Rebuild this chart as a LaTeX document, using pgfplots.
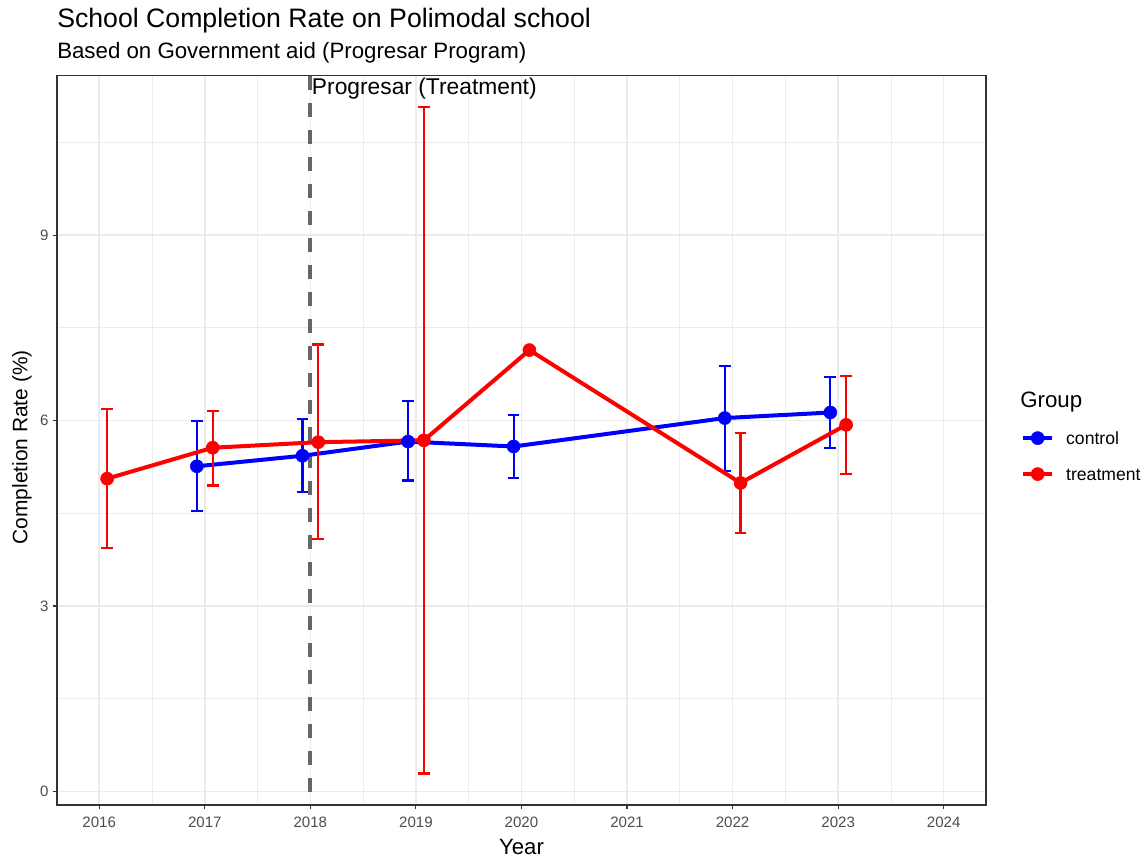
\documentclass[border=0pt]{standalone}
\usepackage{pgfplots}
\usepackage{pgfplotstable}
\pgfplotsset{compat=1.18}
\usepackage{fontspec}
\setmainfont{Liberation Sans}
\definecolor{ctrl}{HTML}{0000FF}
\definecolor{trt}{HTML}{FF0000}
\definecolor{grid92}{HTML}{EBEBEB}
\definecolor{g20}{HTML}{333333}
\definecolor{g30}{HTML}{4D4D4D}
\definecolor{g40}{HTML}{666666}

\pgfplotstableread{
x y ep em
2016.925 5.26 0.73 0.73
2017.925 5.43 0.60 0.59
2018.925 5.66 0.65 0.63
2019.925 5.58 0.51 0.51
2021.925 6.04 0.84 0.85
2022.925 6.13 0.57 0.57
}\controldata

\pgfplotstableread{
x y ep em
2016.075 5.06 1.13 1.12
2017.075 5.56 0.59 0.61
2018.075 5.65 1.58 1.56
2019.075 5.68 5.39 5.39
2020.075 7.14 0 0
2022.075 4.99 0.81 0.81
2023.075 5.93 0.79 0.79
}\treatdata

\begin{document}
\begin{tikzpicture}
\path[use as bounding box] (-42.75pt,-40.5pt) rectangle (817.5pt,603.75pt);
\begin{axis}[
  at={(0pt,0pt)}, anchor=south west,
  scale only axis, width=696.75pt, height=547pt,
  xmin=2015.6, xmax=2024.4, ymin=-0.22, ymax=11.58,
  xtick={2016,2017,...,2024}, ytick={0,3,6,9},
  minor xtick={2016.5,2017.5,...,2023.5},
  minor ytick={1.5,4.5,7.5,10.5},
  grid=both,
  major grid style={grid92, line width=1.2pt},
  minor grid style={grid92, line width=0.6pt},
  minor tick length=0pt, major tick length=3.3pt,
  tick align=outside, tick pos=left,
  axis line style={g20, line width=0.8pt},
  every tick/.style={g20, line width=0.8pt},
  ticklabel style={font=\fontsize{11.3}{13}\selectfont, text=g30},
  xticklabel style={inner sep=0pt, yshift=-5.7pt},
  yticklabel style={inner sep=0pt, xshift=-2.8pt},
  /pgf/number format/assume math mode=true,
  /pgf/number format/1000 sep={},
  xlabel={Year}, ylabel={Completion Rate (\%)},
  every axis x label/.style={at={(axis description cs:0.5,0)}, yshift=-37.5pt, anchor=base, font=\fontsize{16.6}{19}\selectfont},
  every axis y label/.style={at={(axis description cs:0,0.4904)}, xshift=-26.25pt, rotate=90, anchor=center, font=\fontsize{15.7}{19}\selectfont},
  legend style={at={(1.0376,0.4758)}, anchor=west, draw=none, fill=none, inner sep=0pt,
    font=\fontsize{13.2}{15}\selectfont,
    nodes={inner sep=0pt, text height=17pt, text depth=10pt}, column sep=9pt},
  legend cell align=left,
  legend image code/.code={\draw[mark repeat=2, mark phase=2, #1] plot coordinates {(0pt,1.4pt) (10.875pt,1.4pt) (21.75pt,1.4pt)};},
]
\addplot[g40, line width=2.8pt, dash pattern=on 10.5pt off 9.75pt, forget plot] coordinates {(2018,11.58) (2018,-0.22)};

\addplot[ctrl, line width=3pt, mark=*, mark size=4.9pt, mark options={solid, line width=0.4pt},
  error bars/.cd, y dir=both, y explicit,
  error bar style={ctrl, line width=1.6pt},
  error mark options={ctrl, rotate=90, mark size=4.4pt, line width=1.6pt}]
  table[x=x, y=y, y error plus=ep, y error minus=em] {\controldata};
\addlegendentry{control}

\addplot[trt, line width=3pt, mark=*, mark size=4.9pt, mark options={solid, line width=0.4pt},
  error bars/.cd, y dir=both, y explicit,
  error bar style={trt, line width=1.6pt},
  error mark options={trt, rotate=90, mark size=4.4pt, line width=1.6pt}]
  table[x=x, y=y, y error plus=ep, y error minus=em] {\treatdata};
\addlegendentry{treatment}

\node[anchor=base west, inner sep=0pt, font=\fontsize{17.1}{20}\selectfont, xshift=1pt] at (axis cs:2018,11.28) {Progresar (Treatment)};
\end{axis}
\node[anchor=base west, inner sep=0pt, font=\fontsize{20}{24}\selectfont] at (0pt,582.75pt) {School Completion Rate on Polimodal school};
\node[anchor=base west, inner sep=0pt, font=\fontsize{16.7}{20}\selectfont] at (0pt,559.5pt) {Based on Government aid (Progresar Program)};
\node[anchor=base west, inner sep=0pt, font=\fontsize{16.7}{20}\selectfont] at (722.25pt,297.75pt) {Group};
\end{tikzpicture}
\end{document}
